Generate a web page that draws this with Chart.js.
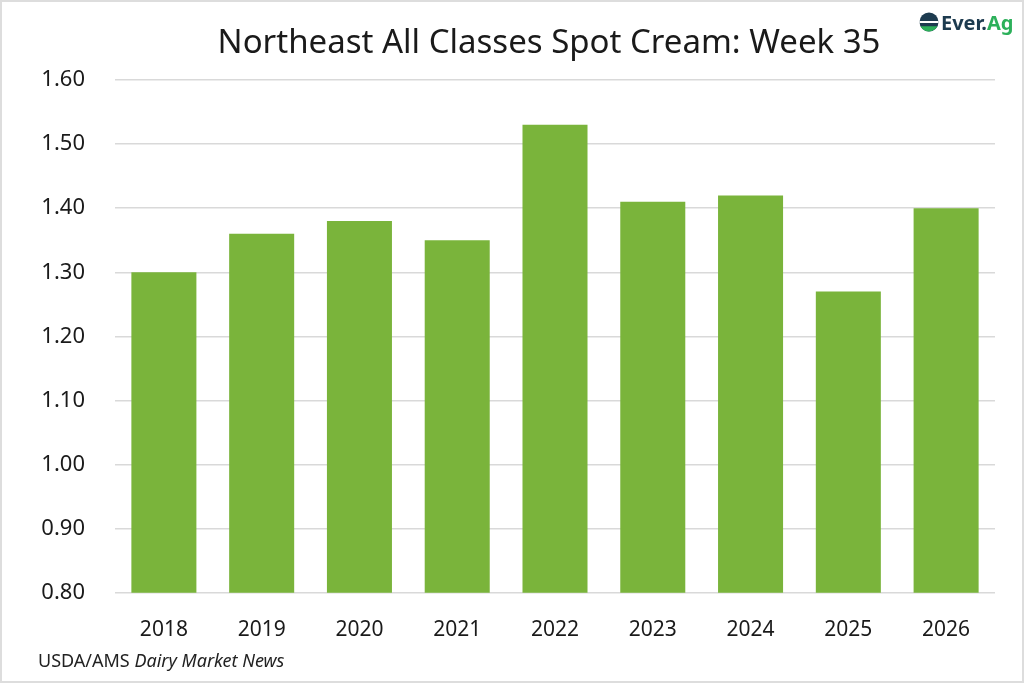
<!DOCTYPE html>
<html>
<head>
<meta charset="utf-8">
<script src="https://cdn.jsdelivr.net/npm/chart.js@4/dist/chart.umd.min.js"></script>
<style>
  html, body { margin: 0; padding: 0; background: #ffffff; }
  #wrap { width: 1024px; height: 683px; position: relative; }
</style>
</head>
<body>
<div id="wrap"><canvas id="creamChart"></canvas></div>
<script>
// Week 35 spot cream multiples
const years = ['2018', '2019', '2020', '2021', '2022', '2023', '2024', '2025', '2026'];
const creamValues = [1.30, 1.36, 1.38, 1.35, 1.53, 1.41, 1.42, 1.27, 1.40];
const yTicks = [0.80, 0.90, 1.00, 1.10, 1.20, 1.30, 1.40, 1.50, 1.60];

const titleText = 'Northeast All Classes Spot Cream: Week 35';
const FONT = "'Noto Sans', 'Open Sans', sans-serif";

// draws the title, source line, logo and frame
const decorations = {
  id: 'decorations',
  afterDraw(chart) {
    const ctx = chart.ctx;
    ctx.save();

    // frame
    ctx.strokeStyle = '#dddddd';
    ctx.lineWidth = 2;
    ctx.strokeRect(1, 1, chart.width - 2, chart.height - 2);

    // title
    ctx.fillStyle = '#1a1a1a';
    ctx.font = '33px ' + FONT;
    ctx.textAlign = 'center';
    ctx.textBaseline = 'alphabetic';
    ctx.fillText(titleText, 549, 53);

    // source
    ctx.textAlign = 'left';
    ctx.font = '18px ' + FONT;
    ctx.fillStyle = '#222222';
    const src = 'USDA/AMS ';
    ctx.fillText(src, 38, 667);
    const w = ctx.measureText(src).width;
    ctx.font = 'italic 18px ' + FONT;
    ctx.fillText('Dairy Market News', 38 + w, 667);

    // logo
    const cx = 929, cy = 22, r = 9.5;
    ctx.beginPath();
    ctx.arc(cx, cy, r, 0, Math.PI * 2);
    ctx.fillStyle = '#1d3b4f';
    ctx.fill();
    ctx.fillStyle = '#ffffff';
    ctx.fillRect(cx - r, cy - 1, r * 2, 2);
    ctx.fillStyle = '#2cb05a';
    ctx.beginPath();
    ctx.arc(cx, cy, r, 0.15 * Math.PI, 0.85 * Math.PI);
    ctx.fill();
    ctx.font = 'bold 20px ' + FONT;
    ctx.fillStyle = '#1d3b4f';
    ctx.fillText('Ever.', 941, 30);
    const ew = ctx.measureText('Ever.').width;
    ctx.fillStyle = '#2cb05a';
    ctx.fillText('Ag', 941 + ew, 30);

    ctx.restore();
  }
};

new Chart(document.getElementById('creamChart').getContext('2d'), {
  type: 'bar',
  data: {
    labels: years,
    datasets: [{
      label: 'Spot Cream',
      data: creamValues,
      backgroundColor: '#7ab43b',
      borderWidth: 0,
      categoryPercentage: 1.0,
      barPercentage: 0.665
    }]
  },
  options: {
    responsive: true,
    maintainAspectRatio: false,
    animation: false,
    devicePixelRatio: 1,
    layout: {
      padding: { top: 80, right: 29, bottom: 15, left: 0 }
    },
    plugins: {
      legend: { display: false },
      title: { display: false },
      tooltip: { enabled: false }
    },
    scales: {
      x: {
        grid: { display: false, drawTicks: false },
        border: { display: false },
        ticks: {
          color: '#1a1a1a',
          font: { family: FONT, size: 21 },
          padding: 25
        }
      },
      y: {
        min: 0.8,
        max: 1.6,
        afterFit(scale) { scale.width = 115; },
        afterBuildTicks(scale) {
          scale.ticks = yTicks.map(v => ({ value: v }));
        },
        grid: { color: '#d9d9d9', lineWidth: 1.5, drawTicks: false },
        border: { display: false },
        ticks: {
          color: '#1a1a1a',
          font: { family: FONT, size: 22 },
          padding: 30,
          callback: v => Number(v).toFixed(2)
        }
      }
    }
  },
  plugins: [decorations]
});
</script>
</body>
</html>
